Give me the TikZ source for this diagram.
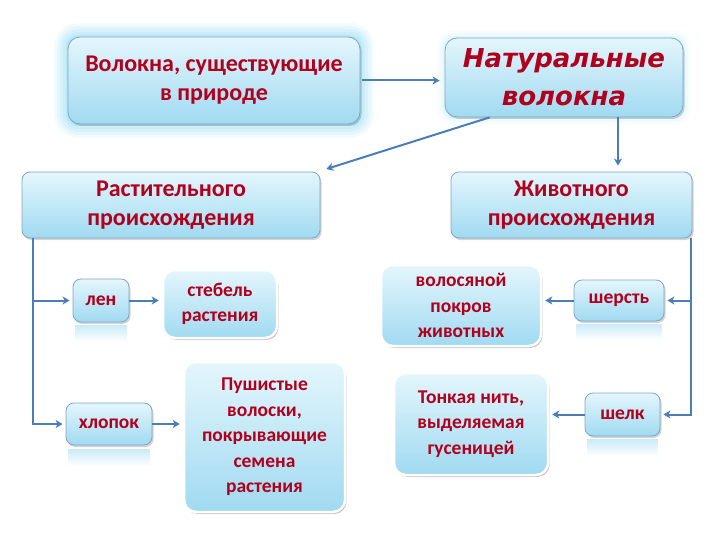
\documentclass[tikz,border=0pt]{standalone}
\usepackage{fontspec}
\setmainfont{Carlito}
\newfontfamily\natfont{DejaVu Sans}
\usetikzlibrary{shadows,arrows.meta}
\definecolor{txtred}{HTML}{B0001E}
\definecolor{linec}{HTML}{4A7EBB}
\definecolor{boxtop}{HTML}{E4F6FC}
\definecolor{boxbot}{HTML}{A0DAF1}
\definecolor{boxedge}{HTML}{7FA6C4}
\definecolor{glowc}{HTML}{8AD8F2}
\tikzset{
  box/.style={rounded corners=8pt, draw=boxedge, line width=0.8pt,
    top color=boxtop, bottom color=boxbot, align=center, text=txtred,
    inner sep=2pt,
    drop shadow={opacity=0.35, shadow xshift=1.5pt, shadow yshift=-2pt}},
  bigbox/.style={box, draw=white, line width=2.5pt, rounded corners=12pt,
    drop shadow={opacity=0.4, shadow xshift=1pt, shadow yshift=-1.5pt}},
  hfont/.style={font=\bfseries\fontsize{24}{29}\selectfont},
  sfont/.style={font=\bfseries\fontsize{19.5}{25.5}\selectfont},
  conn/.style={draw=linec, line width=2pt, -{Stealth[length=7pt,width=8pt,inset=2pt]}},
  refl/.style={top color=boxbot!55, bottom color=white, draw=none},
}
\begin{document}
\begin{tikzpicture}[x=1pt,y=-1pt]
\useasboundingbox (0,0) rectangle (720,540);
% glow around first box
\foreach \d/\o in {14/0.10,11/0.12,8/0.15,5/0.2,2/0.3}{
  \fill[glowc, opacity=\o, rounded corners={10pt+\d pt}] (68-\d,37-\d) rectangle (360+\d,124+\d);
}
% faint glow around second box
\foreach \d/\o in {8/0.06,5/0.08,2/0.12}{
  \fill[glowc, opacity=\o, rounded corners={10pt+\d pt}] (445-\d,38-\d) rectangle (683+\d,117+\d);
}
% reflections under small boxes
\path[refl] (75,325) rectangle (127,342);
\path[refl] (68,449) rectangle (150,466);
\path[refl] (576,324) rectangle (662,340);
\path[refl] (587,439) rectangle (658,456);

\node[box, hfont, minimum width=292, minimum height=87, rounded corners=12pt] (b1) at (214,80.5)
  {Волокна, существующие\\в природе};
\node[box, minimum width=238, minimum height=79, rounded corners=12pt,
  font=\natfont\bfseries\itshape\fontsize{26}{38}\selectfont] (b2) at (564,77.5)
  {Натуральные\\волокна};
\node[box, hfont, minimum width=298, minimum height=66] (b3) at (171,205)
  {Растительного\\происхождения};
\node[box, hfont, minimum width=241, minimum height=66] (b4) at (571.5,205)
  {Животного\\происхождения};

\node[box, sfont, minimum width=56, minimum height=43] (len) at (101,300.5) {лен};
\node[bigbox, sfont, minimum width=114, minimum height=68] (stebel) at (220,304)
  {стебель\\растения};
\node[box, sfont, minimum width=86, minimum height=42] (hlopok) at (109,424) {хлопок};
\node[bigbox, sfont, minimum width=161, minimum height=150] (push) at (264.5,437)
  {Пушистые\\волоски,\\покрывающие\\семена\\растения};
\node[bigbox, sfont, minimum width=160, minimum height=81] (volos) at (461,305.5)
  {волосяной\\покров\\животных};
\node[box, sfont, minimum width=90, minimum height=41] (sherst) at (619,300.5) {шерсть};
\node[bigbox, sfont, minimum width=154, minimum height=102] (tonk) at (471,424)
  {Тонкая нить,\\выделяемая\\гусеницей};
\node[box, sfont, minimum width=75, minimum height=43] (shelk) at (622.5,414.5) {шелк};

% connectors
\draw[conn, shorten >=5pt, shorten <=2pt] (b1.east) -- (b1.east -| b2.west);
\draw[conn, shorten >=2pt] ([xshift=45pt]b2.south west) -- ([xshift=4pt,yshift=2pt]b3.north east);
\draw[conn, shorten >=6pt] ([xshift=54pt]b2.south) -- ([xshift=54pt]b2.south |- b4.north);
\coordinate (lt) at ([xshift=11pt]b3.south west);
\draw[conn, shorten >=3pt] (lt) |- (hlopok.west);
\draw[conn, shorten >=3pt] (lt |- len.west) -- (len.west);
\draw[conn, shorten >=3pt] (len.east) -- (len.east -| stebel.west);
\draw[conn, shorten >=3pt] (hlopok.east) -- (hlopok.east -| push.west);
\coordinate (rt) at ([xshift=-1pt]b4.south east);
\draw[conn, shorten >=3pt] (rt) |- (shelk.east);
\draw[conn, shorten >=3pt] (rt |- sherst.east) -- (sherst.east);
\draw[conn, shorten >=3pt] (sherst.west) -- (sherst.west -| volos.east);
\draw[conn, shorten >=3pt] (shelk.west) -- (shelk.west -| tonk.east);
\end{tikzpicture}
\end{document}
